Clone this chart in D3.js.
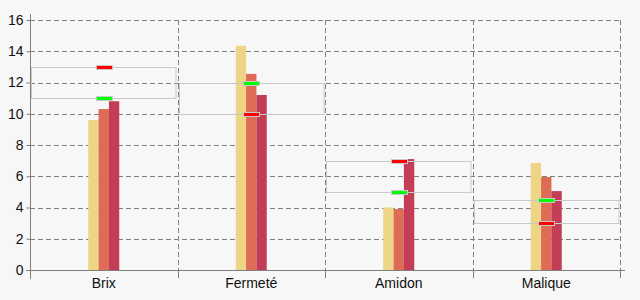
<!DOCTYPE html>
<html>
<head>
<meta charset="utf-8">
<script src="https://cdn.jsdelivr.net/npm/d3@7"></script>
<style>
  body { margin: 0; background: #f7f7f7; }
  svg { display: block; font-family: "Liberation Sans", Arial, sans-serif; }
</style>
</head>
<body>
<div id="chart"></div>
<script>
// data
let categories = ['Brix', 'Fermeté', 'Amidon', 'Malique']
let series1 = [9.6, 14.35, 4.0, 6.85]
let series2 = [10.3, 12.55, 3.9, 5.95]
let series3 = [10.8, 11.2, 7.1, 5.05]
let redMarks = [13, 10, 7, 3]
let greenMarks = [11, 12, 5, 4.5]
let yTicks = [0, 2, 4, 6, 8, 10, 12, 14, 16]

let svgWidth = 640, svgHeight = 300
let margin = {top: 20, right: 20, bottom: 30, left: 30}
let width = svgWidth - margin.left - margin.right
let height = svgHeight - margin.top - margin.bottom

let colors = ['#eed485', '#de6b56', '#c43d57']
let gridColor = '#808080'

let svg = d3.select('#chart')
    .append('svg')
    .attr('width', svgWidth)
    .attr('height', svgHeight)
    .style('background', '#f7f7f7')

let chart = svg.append('g')
    .attr('transform', 'translate(' + margin.left + ',' + margin.top + ')')

// scales
let xScale = d3.scaleBand()
    .domain(categories)
    .range([0, width])
    .padding(0)

let yScale = d3.scaleLinear()
    .domain([0, 16])
    .range([height, 0])

let seriesNames = ['s1', 's2', 's3']
let x1 = d3.scaleBand()
    .domain(seriesNames)
    .range([-15.5, 15.5])

// horizontal grid
chart.append('g')
    .selectAll('line')
    .data(yTicks.filter(d => d > 0))
    .join('line')
    .attr('x1', 0)
    .attr('x2', width)
    .attr('y1', d => Math.round(yScale(d)) + 0.5)
    .attr('y2', d => Math.round(yScale(d)) + 0.5)
    .attr('stroke', gridColor)
    .attr('stroke-dasharray', '5,3')

// vertical grid at band boundaries
chart.append('g')
    .selectAll('line')
    .data(categories)
    .join('line')
    .attr('x1', d => Math.round(xScale(d) + xScale.bandwidth()) + 0.5)
    .attr('x2', d => Math.round(xScale(d) + xScale.bandwidth()) + 0.5)
    .attr('y1', 0)
    .attr('y2', height)
    .attr('stroke', gridColor)
    .attr('stroke-dasharray', '5,3')

// bars
let barData = []
categories.forEach((c, i) => {
    barData.push({cat: c, key: 's1', value: series1[i], color: colors[0]})
    barData.push({cat: c, key: 's2', value: series2[i], color: colors[1]})
    barData.push({cat: c, key: 's3', value: series3[i], color: colors[2]})
})

chart.append('g')
    .selectAll('rect')
    .data(barData)
    .join('rect')
    .attr('x', d => xScale(d.cat) + xScale.bandwidth() / 2 + x1(d.key))
    .attr('width', x1.bandwidth())
    .attr('y', d => yScale(d.value))
    .attr('height', d => height - yScale(d.value))
    .attr('fill', d => d.color)

// range boxes
chart.append('g')
    .selectAll('rect')
    .data(categories)
    .join('rect')
    .attr('x', d => Math.round(xScale(d)) + 1.5)
    .attr('width', xScale.bandwidth() - 3)
    .attr('y', (d, i) => Math.round(yScale(Math.max(redMarks[i], greenMarks[i]))) + 0.5)
    .attr('height', (d, i) => Math.round(yScale(Math.min(redMarks[i], greenMarks[i]))) - Math.round(yScale(Math.max(redMarks[i], greenMarks[i]))))
    .attr('fill', 'none')
    .attr('stroke', '#c8c8c8')

// markers
function markers(values, color) {
    chart.append('g')
        .selectAll('rect')
        .data(categories)
        .join('rect')
        .attr('x', d => Math.round(xScale(d) + xScale.bandwidth() / 2) - 7.5)
        .attr('width', 16)
        .attr('y', (d, i) => Math.round(yScale(values[i])) - 1.5)
        .attr('height', 4)
        .attr('fill', color)
        .attr('stroke', '#c8c8c8')
}
markers(redMarks, '#ff0000')
markers(greenMarks, '#00ff00')

// y axis
let yAxis = chart.append('g')
    .attr('transform', 'translate(0.5,0)')
    .call(d3.axisLeft(yScale).tickValues(yTicks).tickSize(4).tickPadding(3).tickSizeOuter(0))
yAxis.select('.domain').remove()
yAxis.selectAll('.tick line').attr('stroke', gridColor)
yAxis.selectAll('.tick text')
    .attr('font-size', 14)
    .attr('fill', '#111')
    .style('font-family', '"Liberation Sans", Arial, sans-serif')
yAxis.append('line')
    .attr('x1', 0).attr('x2', 0)
    .attr('y1', -6).attr('y2', height + 9)
    .attr('stroke', gridColor)

// x axis
let xAxis = chart.append('g')
    .attr('transform', `translate(0,${height})`)
    .call(d3.axisBottom(xScale).tickSize(0).tickPadding(8))
xAxis.select('.domain').remove()
xAxis.selectAll('.tick text')
    .attr('font-size', 14)
    .attr('fill', '#111')
    .style('font-family', '"Liberation Sans", Arial, sans-serif')
xAxis.append('line')
    .attr('x1', -4).attr('x2', width + 5)
    .attr('y1', 0.5).attr('y2', 0.5)
    .attr('stroke', gridColor)
xAxis.selectAll('.bound')
    .data(categories)
    .join('line')
    .attr('class', 'bound')
    .attr('x1', d => Math.round(xScale(d) + xScale.bandwidth()) + 0.5)
    .attr('x2', d => Math.round(xScale(d) + xScale.bandwidth()) + 0.5)
    .attr('y1', 0)
    .attr('y2', 8)
    .attr('stroke', gridColor)
</script>
</body>
</html>
